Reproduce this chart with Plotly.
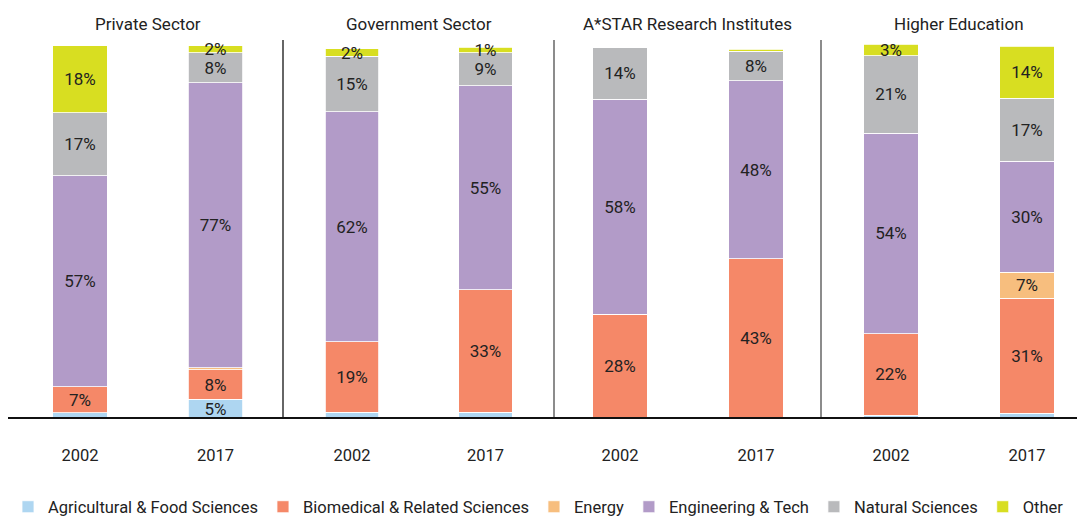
import plotly.graph_objects as go
from plotly.subplots import make_subplots

sectors = ["Private Sector", "Government Sector", "A*STAR Research Institutes", "Higher Education"]
years = ["2002", "2017"]

# values (%) per sector: [2002, 2017]
series_names = ["Agricultural & Food Sciences", "Biomedical & Related Sciences", "Energy",
                "Engineering & Tech", "Natural Sciences", "Other"]
agri =    [[1.4, 5], [1.6, 1.6], [0, 0], [0.8, 1.3]]
biomed =  [[7, 8], [19, 33], [28, 43], [22, 31]]
energy =  [[0, 0.5], [0, 0], [0, 0], [0, 7]]
eng =     [[57, 77], [62, 55], [58, 48], [54, 30]]
natural = [[17, 8], [15, 9], [14, 8], [21, 17]]
other =   [[18, 2], [2, 1.4], [0, 0.5], [3, 14]]
# which segments carry a printed label
agri_lbl =    [[False, True], [False, False], [False, False], [False, False]]
biomed_lbl =  [[True, True], [True, True], [True, True], [True, True]]
energy_lbl =  [[False, False], [False, False], [False, False], [False, True]]
eng_lbl =     [[True, True], [True, True], [True, True], [True, True]]
natural_lbl = [[True, True], [True, True], [True, True], [True, True]]
other_lbl =   [[True, True], [True, True], [False, False], [True, True]]

colors = ["#AED6F1", "#F58868", "#F7BE7E", "#B29BC8", "#B9BABC", "#D8DE21"]
data = [agri, biomed, energy, eng, natural, other]
labels = [agri_lbl, biomed_lbl, energy_lbl, eng_lbl, natural_lbl, other_lbl]

FONT = "Roboto"
TXT = "#222222"

fig = make_subplots(rows=1, cols=4, shared_yaxes=True, horizontal_spacing=0)

for c in range(4):
    for s in range(6):
        vals = data[s][c]
        txt = [f"{round(v)}%" if show else "" for v, show in zip(vals, labels[s][c])]
        fig.add_trace(go.Bar(
            x=years, y=vals, name=series_names[s], legendgroup=series_names[s],
            showlegend=(c == 0), marker=dict(color=colors[s], line=dict(color="white", width=0.8)),
            width=0.4, text=txt, textposition="inside", insidetextanchor="middle",
            textangle=0, constraintext="none",
            textfont=dict(size=17, color=TXT, family=FONT),
            hoverinfo="skip",
        ), row=1, col=c + 1)

# the page body adds an 8px offset; figure coords = screen coords - 8
# the figure is wider/taller than the window; the overflow is cropped like the reference
W = 1260.0
H = 530.0
ML, MR, MT, MB = 14, 0, 32, 120
PW = W - ML - MR
# panel boundaries in figure px
bounds = [14, 275, 546, 813, 1087]
ranges = [[-0.428, 1.498], [-0.517, 1.513], [-0.485, 1.478], [-0.515, 1.5]]
for c in range(4):
    ax = "xaxis" if c == 0 else f"xaxis{c+1}"
    fig.layout[ax].update(domain=[(bounds[c] - ML) / PW, (bounds[c + 1] - ML) / PW], range=ranges[c],
                          showgrid=False, zeroline=False, showline=False, ticks="",
                          ticklabelstandoff=25,
                          tickfont=dict(size=16.5, color=TXT, family=FONT))
    xr = "x" if c == 0 else f"x{c+1}"
    fig.add_annotation(text=sectors[c], xref=xr, x=0.5, yref="paper", y=1,
                       yanchor="bottom", yshift=4, showarrow=False,
                       font=dict(size=17, color=TXT, family=FONT))

for c in range(4):
    ay = "yaxis" if c == 0 else f"yaxis{c+1}"
    fig.layout[ay].update(range=[0, 102], visible=False)

# separators
for b in bounds[1:4]:
    xp = (b - ML) / PW
    fig.add_shape(type="line", xref="paper", yref="paper", x0=xp, x1=xp, y0=0, y1=1,
                  line=dict(color="#333333" if b == 275 else "#666666", width=1.5))
fig.add_shape(type="line", xref="paper", yref="paper", x0=-ML / PW, x1=(1100 - ML) / PW, y0=0, y1=0,
              line=dict(color="#111111", width=2))

fig.update_layout(
    barmode="stack", width=W, height=H,
    margin=dict(l=ML, r=MR, t=MT, b=MB),
    plot_bgcolor="white", paper_bgcolor="white",
    font=dict(family=FONT, size=16, color=TXT),
    legend=dict(orientation="h", xref="container", yref="container",
                x=0, xanchor="left", y=1 - 499 / H, yanchor="middle",
                font=dict(size=16.5, color=TXT, family=FONT), traceorder="normal",
                itemwidth=30),
)

fig.write_html("out.html")
